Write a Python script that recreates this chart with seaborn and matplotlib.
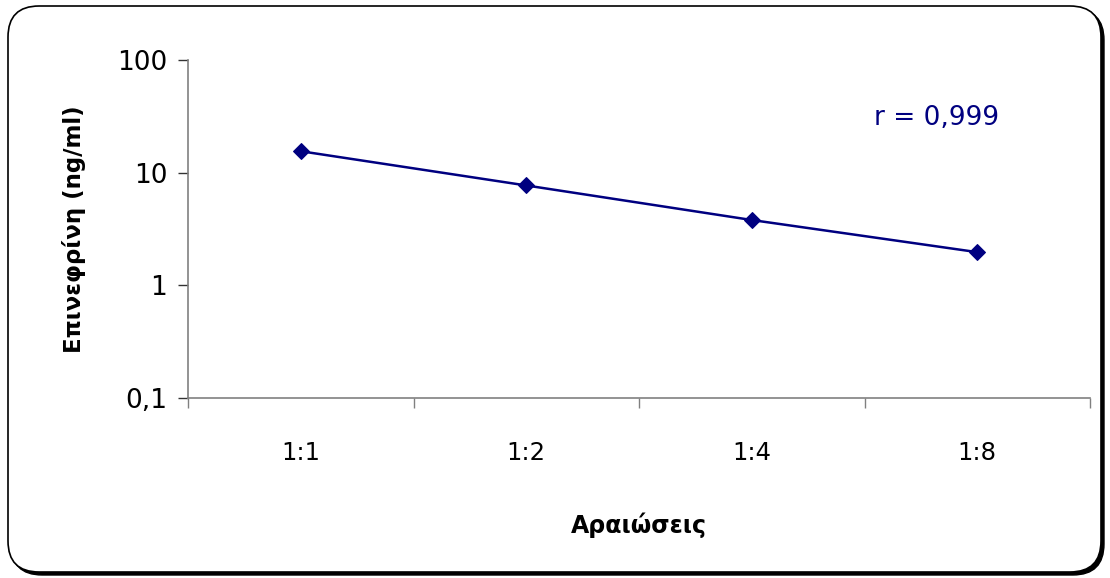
import matplotlib
matplotlib.use("Agg")
import matplotlib.pyplot as plt
import seaborn as sns
import pandas as pd
from matplotlib.patches import FancyBboxPatch
from matplotlib.ticker import FixedLocator, NullFormatter

# Data
dilutions = ["1:1", "1:2", "1:4", "1:8"]
epinephrine = [15.5, 7.7, 3.8, 1.97]
y_ticks = [0.1, 1, 10, 100]
y_tick_labels = ["0,1", "1", "10", "100"]
annotation = "r = 0,999"
x_label = "Αραιώσεις"
y_label = "Επινεφρίνη (ng/ml)"

sns.set_theme(style="white")
plt.rcParams['font.family'] = ['DejaVu Sans']
plt.rcParams['text.color'] = 'black'
plt.rcParams['axes.labelcolor'] = 'black'

df = pd.DataFrame({"dilution": dilutions, "value": epinephrine})

fig = plt.figure(figsize=(11.1, 5.78), dpi=100)
fig.patch.set_facecolor("white")

# Rounded frame with shadow
shadow = FancyBboxPatch((11 / 1110, 3 / 578), 1093 / 1110, 566 / 578,
                        boxstyle="round,pad=0,rounding_size=0.028",
                        transform=fig.transFigure, facecolor="black",
                        edgecolor="black", linewidth=1, zorder=0,
                        mutation_aspect=1110 / 578)
frame = FancyBboxPatch((8 / 1110, 6 / 578), 1093 / 1110, 566 / 578,
                       boxstyle="round,pad=0,rounding_size=0.028",
                       transform=fig.transFigure, facecolor="white",
                       edgecolor="black", linewidth=1.2, zorder=1,
                       mutation_aspect=1110 / 578)
fig.patches.extend([shadow, frame])

ax = fig.add_axes([188 / 1110, 1 - 398 / 578, (1090 - 188) / 1110, (398 - 60) / 578])
ax.set_facecolor("none")
ax.set_zorder(2)

sns.lineplot(data=df, x="dilution", y="value", ax=ax, color="#000080",
             marker="D", markersize=8, markeredgecolor="#000080",
             linewidth=1.8, sort=False)

ax.set_yscale("log")
ax.set_ylim(0.1, 100)
ax.set_xlim(-0.5, len(dilutions) - 0.5)

ax.yaxis.set_major_locator(FixedLocator(y_ticks))
ax.set_yticklabels(y_tick_labels)
ax.yaxis.set_minor_locator(FixedLocator([]))
ax.yaxis.set_minor_formatter(NullFormatter())

ax.set_xticks(range(len(dilutions)))
ax.set_xticklabels(dilutions)
ax.set_xticks([i - 0.5 for i in range(len(dilutions) + 1)], minor=True)

ax.tick_params(axis="x", which="major", length=0, pad=31, labelsize=17.5, labelcolor="black")
ax.tick_params(axis="x", which="minor", length=7, width=1, color="#808080", direction="out", bottom=True)
ax.tick_params(axis="y", which="major", length=7, width=1, color="#333333", direction="out", left=True,
               labelsize=19, pad=8, labelcolor="black")

for s in ["top", "right"]:
    ax.spines[s].set_visible(False)
for s in ["left", "bottom"]:
    ax.spines[s].set_visible(True)
    ax.spines[s].set_color("#808080")
    ax.spines[s].set_linewidth(1.2)

ax.set_xlabel(x_label, fontsize=17, fontweight="bold", labelpad=34, color="black")
ax.set_ylabel(y_label, fontsize=16.5, fontweight="bold", labelpad=22, color="black")
ax.grid(False)

ax.text(0.830, 0.828, annotation, transform=ax.transAxes, ha="center", va="center",
        fontsize=19, color="#000080")

fig.savefig("out.png", dpi=100, facecolor="white")
